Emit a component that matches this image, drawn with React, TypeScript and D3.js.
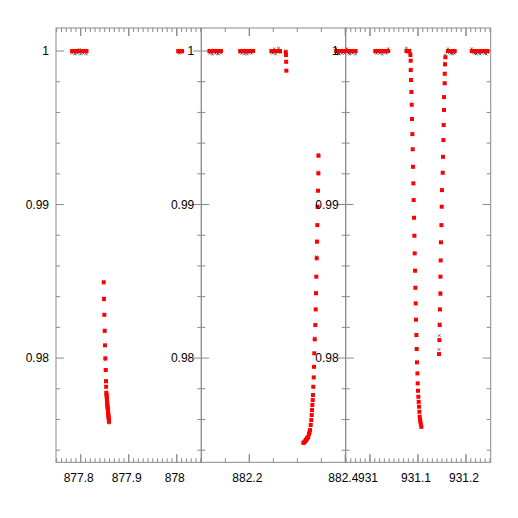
import React, { useEffect, useRef } from 'react';
import * as d3 from 'd3';

// panel 1 (time in days, flux relative)
const p1Time = [
  877.782, 877.785, 877.788, 877.791, 877.794, 877.797, 877.800, 877.803, 877.806, 877.809, 877.812,
  877.8479, 877.8485, 877.8492, 877.8500, 877.8506, 877.8513, 877.8521, 877.8527, 877.8529, 877.8533,
  877.8538, 877.8542, 877.8545, 877.8548, 877.8551, 877.8554, 877.8558, 877.8563, 877.8566, 877.8569,
  877.8572, 877.8575, 877.8579, 877.8583, 877.8587, 877.8590,
  878.003, 878.006, 878.009, 878.011,
];
const p1Model = [
  1, 1, 1, 1, 1, 1, 1, 1, 1, 1, 1,
  0.98493, 0.98386, 0.98282, 0.98178, 0.98083, 0.97998, 0.97922, 0.97850, 0.97813, 0.97774,
  0.97760, 0.97748, 0.97734, 0.97720, 0.97707, 0.97694, 0.97683, 0.97672, 0.97661, 0.97650,
  0.97640, 0.97629, 0.97618, 0.97607, 0.97596, 0.97585,
  1, 1, 1, 1,
];
const p1Resid = [
  -0.00015, 0.00005, -0.0002, -0.0001, -0.00015, 0.0001, -0.0002, -0.00005, -0.00015, 0.0, -0.0002,
  0.00005, -0.0001, 0, -0.00008, 0, -0.0001, 0, -0.00008, 0, 0,
  -0.00005, 0, 0, 0.00005, 0, 0, -0.00005, 0, 0, 0,
  0, -0.00004, 0, 0, 0, -0.0001,
  -0.0001, -0.00015, 0.00005, -0.0001,
];

// panel 2
const p2Time = [
  882.117, 882.120, 882.123, 882.126, 882.129, 882.132, 882.135, 882.138, 882.141,
  882.181, 882.184, 882.187, 882.190, 882.193, 882.196, 882.199, 882.202, 882.205, 882.208,
  882.246, 882.249, 882.252, 882.255, 882.258, 882.261, 882.264,
  882.2760, 882.2764, 882.2768, 882.2772,
  882.3125, 882.3140, 882.3160, 882.3170, 882.3181, 882.3192, 882.3202, 882.3215, 882.3229, 882.3244,
  882.3255, 882.3265, 882.3279, 882.3292, 882.3300, 882.3306, 882.3313, 882.3321, 882.3327, 882.3333,
  882.3342, 882.3348, 882.3354, 882.3363, 882.3375, 882.3383, 882.3390, 882.3396, 882.3404, 882.3410,
  882.3417, 882.3425, 882.3431, 882.3438, 882.3440,
  882.381, 882.384, 882.387, 882.390, 882.393, 882.396, 882.399,
];
const p2Model = [
  1, 1, 1, 1, 1, 1, 1, 1, 1,
  1, 1, 1, 1, 1, 1, 1, 1, 1, 1,
  1, 1, 1, 1, 1, 1, 1,
  0.99992, 0.99974, 0.99930, 0.99872,
  0.97448, 0.97450, 0.97456, 0.97461, 0.97466, 0.97471, 0.97476, 0.97481, 0.97487, 0.97505,
  0.97518, 0.97531, 0.97564, 0.97596, 0.97629, 0.97661, 0.97694, 0.97726, 0.97759, 0.97813,
  0.97874, 0.97943, 0.98031, 0.98122, 0.98215, 0.98317, 0.98422, 0.98530, 0.98650, 0.98758,
  0.98866, 0.98984, 0.99090, 0.99203, 0.99318,
  1, 1, 1, 1, 1, 1, 1,
];
const p2Resid = [
  -0.00015, -0.0001, -0.0002, 0.00005, -0.00015, -0.0001, -0.0002, 0.0, -0.00015,
  -0.0001, -0.00015, 0.00005, -0.0002, -0.0001, -0.0002, 0.0, -0.0001, -0.00015, 0.00005,
  -0.0001, -0.00015, 0.00015, -0.0002, 0.00005, 0.0002, -0.0001,
  0.0001, 0, 0, 0,
  0, 0.00005, 0, 0, -0.00005, 0, 0, 0, 0, 0,
  0, 0, 0, 0, 0, 0, 0, 0, 0, 0,
  0, 0, 0, 0.0001, 0, 0, 0.00008, 0, 0.0001, 0.00006,
  0, 0.0001, 0, 0.0001, 0.0001,
  0.00015, -0.00015, -0.0002, -0.0001, -0.00015, 0.00005, -0.00015,
];

// panel 3
const p3Time = [
  930.952, 930.955, 930.958, 930.961, 930.964, 930.967, 930.970,
  931.011, 931.014, 931.017, 931.020, 931.023, 931.026, 931.029, 931.032, 931.035, 931.038,
  931.076, 931.079, 931.082,
  931.0842, 931.0848, 931.0849, 931.0854, 931.0863, 931.0869, 931.0875, 931.0883, 931.0890, 931.0896,
  931.0904, 931.0910, 931.0917, 931.0925, 931.0931, 931.0938, 931.0946, 931.0952, 931.0958, 931.0967,
  931.0973, 931.0979, 931.0988, 931.0994, 931.1000, 931.1008, 931.1015, 931.1021, 931.1029, 931.1035,
  931.1042, 931.1050, 931.1060, 931.1071,
  931.1438, 931.1446, 931.1452, 931.1458, 931.1467, 931.1468, 931.1473, 931.1479, 931.1488, 931.1494,
  931.1500, 931.1515, 931.1521, 931.1529, 931.1535, 931.1542, 931.1543, 931.1556, 931.1557, 931.1563,
  931.1571,
  931.1625, 931.1655, 931.1685, 931.1715, 931.1745, 931.1765,
  931.212, 931.215, 931.218, 931.221, 931.224, 931.227, 931.230, 931.233, 931.236, 931.239, 931.242, 931.245,
];
const p3Model = [
  1, 1, 1, 1, 1, 1, 1,
  1, 1, 1, 1, 1, 1, 1, 1, 1, 1,
  1, 1, 1,
  0.99974, 0.99937, 0.99876, 0.99811, 0.99733, 0.99650, 0.99557, 0.99459, 0.99360, 0.99246,
  0.99138, 0.99029, 0.98914, 0.98797, 0.98682, 0.98569, 0.98458, 0.98356, 0.98250, 0.98150,
  0.98059, 0.97972, 0.97900, 0.97835, 0.97787, 0.97748, 0.97715, 0.97683, 0.97650, 0.97618,
  0.97600, 0.97585, 0.97568, 0.97552,
  0.98026, 0.98117, 0.98215, 0.98317, 0.98419, 0.98530, 0.98636, 0.98754, 0.98866, 0.98986,
  0.99094, 0.99207, 0.99311, 0.99420, 0.99518, 0.99616, 0.99700, 0.99790, 0.99852, 0.99913,
  0.99959,
  1, 1, 1, 1, 1, 1,
  1, 1, 1, 1, 1, 1, 1, 1, 1, 1, 1, 1,
];
const p3Resid = [
  0.00015, -0.00015, -0.0002, -0.0001, -0.00015, 0.00005, -0.0002,
  -0.0001, -0.00015, 0.00005, -0.00015, -0.0001, -0.0002, 0.0, -0.0001, -0.00015, 0.00015,
  0.0002, -0.0001, 0.00005,
  0.0001, 0, 0, 0, 0, 0, 0, 0, 0, 0,
  0, 0, 0, 0, 0, 0, 0, 0, 0, 0,
  0, 0, 0, 0, 0, 0, 0, 0, 0, 0,
  0, 0, 0, 0,
  0.0003, 0.0003, 0.0001, 0, 0.0001, 0, 0, 0, 0, 0,
  0, 0, 0, 0, 0, 0, 0, 0, 0, 0.0001,
  0.00015,
  0.00015, -0.0001, -0.00015, -0.0002, -0.0001, -0.00015,
  0.00015, -0.0001, -0.00015, -0.0002, -0.0001, -0.00015, -0.0002, -0.0001, 0.00005, -0.00015, -0.0002, -0.0001,
];

// axis ranges and tick labels
const p1Range = [877.7486, 878.051];
const p2Range = [882.1, 882.4008];
const p3Range = [930.9494, 931.2515];
const p1Ticks = [877.8, 877.9, 878];
const p2Ticks = [882.2, 882.4];
const p3Ticks = [931, 931.1, 931.2];
const fluxRange = [0.97321, 1.0015];
const fluxTicks = [0.98, 0.99, 1];

export default function App() {
  const svgRef = useRef<SVGSVGElement>(null);

  useEffect(() => {
    const svg = d3.select(svgRef.current);
    svg.selectAll('*').remove();

    const top = 28;
    const bottom = 462.3;
    const edges = [56, 201.3, 345.7, 490.7];
    const axisColor = '#8a8a8a';
    const font = '"Liberation Sans", Arial, sans-serif';

    const yScale = d3.scaleLinear().domain(fluxRange).range([bottom, top]);

    const panels = [
      { range: p1Range, time: p1Time, model: p1Model, resid: p1Resid, ticks: p1Ticks, minor: 0.01 },
      { range: p2Range, time: p2Time, model: p2Model, resid: p2Resid, ticks: p2Ticks, minor: 0.05 },
      { range: p3Range, time: p3Time, model: p3Model, resid: p3Resid, ticks: p3Ticks, minor: 0.01 },
    ];

    const stepsIn = (lo: number, hi: number, step: number) => {
      const out: number[] = [];
      for (let k = Math.ceil(lo / step - 1e-6); k * step <= hi + 1e-9; k++) out.push(k * step);
      return out;
    };

    panels.forEach((p, i) => {
      const x0 = edges[i];
      const x1 = edges[i + 1];
      const xScale = d3.scaleLinear().domain(p.range).range([x0, x1]);
      const g = svg.append('g');

      // border
      g.append('rect')
        .attr('x', x0).attr('y', top)
        .attr('width', x1 - x0).attr('height', bottom - top)
        .attr('fill', 'none').attr('stroke', axisColor).attr('stroke-width', 1);

      // x ticks (bottom and top, inward)
      const xMinor = stepsIn(p.range[0], p.range[1], p.minor);
      const isMajor = (v: number) => p.ticks.some(t => Math.abs(t - v) < 1e-6);
      xMinor.concat(p.ticks).forEach(v => {
        const len = isMajor(v) ? 8 : 4;
        const px = xScale(v);
        g.append('line').attr('x1', px).attr('x2', px).attr('y1', bottom).attr('y2', bottom - len)
          .attr('stroke', axisColor);
        g.append('line').attr('x1', px).attr('x2', px).attr('y1', top).attr('y2', top + len)
          .attr('stroke', axisColor);
      });

      // y ticks (left and right, inward)
      const yMinor = stepsIn(0.974, 1.0, 0.002);
      yMinor.forEach(v => {
        const len = fluxTicks.some(t => Math.abs(t - v) < 1e-6) ? 8 : 4;
        const py = yScale(v);
        g.append('line').attr('x1', x0).attr('x2', x0 + len).attr('y1', py).attr('y2', py)
          .attr('stroke', axisColor);
        g.append('line').attr('x1', x1).attr('x2', x1 - len).attr('y1', py).attr('y2', py)
          .attr('stroke', axisColor);
      });

      // data: observed (x) under model (red squares)
      const idx = d3.range(p.time.length)
        .filter(j => p.time[j] >= p.range[0] && p.time[j] <= p.range[1]);
      g.selectAll('path.obs')
        .data(idx)
        .join('path')
        .attr('class', 'obs')
        .attr('d', j => {
          const cx = xScale(p.time[j]);
          const cy = yScale(p.model[j] + (p.resid[j] ?? 0));
          const s = 1.3;
          return `M${cx - s},${cy - s}L${cx + s},${cy + s}M${cx - s},${cy + s}L${cx + s},${cy - s}`;
        })
        .attr('stroke', '#333')
        .attr('stroke-width', 0.7)
        .attr('fill', 'none');
      g.selectAll('rect.mod')
        .data(idx)
        .join('rect')
        .attr('class', 'mod')
        .attr('x', j => xScale(p.time[j]) - 2)
        .attr('y', j => yScale(p.model[j]) - 2)
        .attr('width', 4)
        .attr('height', 4)
        .attr('fill', '#ff0000');

      // tick labels
      p.ticks.forEach(v => {
        g.append('text')
          .attr('x', xScale(v) - 2).attr('y', 482)
          .attr('text-anchor', 'middle')
          .attr('font-family', font).attr('font-size', 12).attr('fill', '#000')
          .text(String(v));
      });
      fluxTicks.forEach(v => {
        g.append('text')
          .attr('x', x0 - 7).attr('y', yScale(v) + 4.4)
          .attr('text-anchor', 'end')
          .attr('font-family', font).attr('font-size', 12).attr('fill', '#000')
          .text(String(v));
      });
    });
  }, []);

  return (
    <div className="App">
      <svg ref={svgRef} width={518} height={518}
        style={{ position: 'absolute', left: 0, top: 0, background: '#fff' }} />
    </div>
  );
}
